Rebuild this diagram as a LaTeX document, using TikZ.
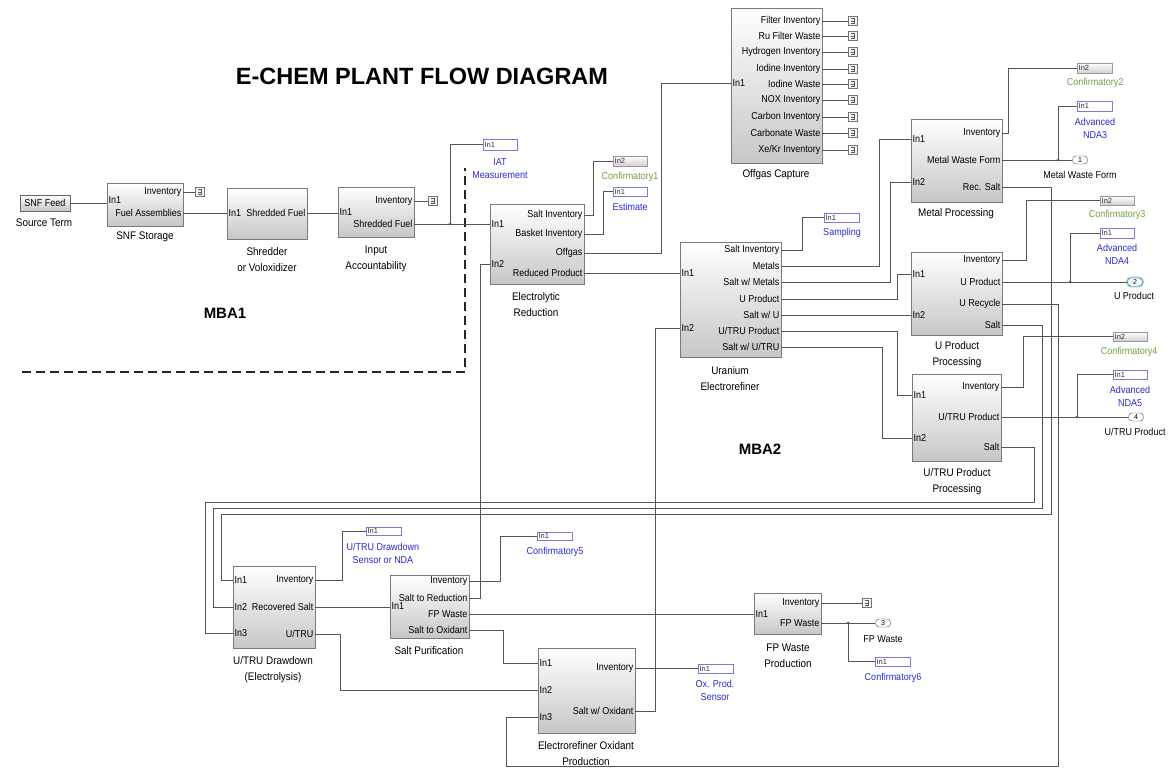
\documentclass[tikz,border=0pt]{standalone}
\usepackage{fontspec}
\setmainfont{Liberation Sans}
\newfontfamily\nf[FakeStretch=0.9]{Liberation Sans}
\usetikzlibrary{fit}
\definecolor{wirec}{HTML}{555555}
\definecolor{lblue}{HTML}{2A2AD8}
\definecolor{lgreen}{HTML}{74A040}
\definecolor{bbord}{HTML}{7C78E0}
\definecolor{bordc}{HTML}{7A7A7A}
\newcommand\smallin[7]{\node[#1, fit={(#3,#4)(#5,#6)}] (#2) {}; \node[tt] (#2-t) at ([xshift=1.8pt]#2.west) {#7};}
\newcommand\ogport[3]{\node[pl,anchor=east] (og-o#1) at (820.5,#2) {#3}; \node[term] (og-t#1) at (853,#2) {}; \draw[wire] (og.east |- og-o#1) -- (og-t#1.west);}
\begin{document}
\begin{tikzpicture}[x=1pt,y=-1pt,
  blk/.style={draw=bordc, line width=0.7pt, top color=white, bottom color=black!22, inner sep=0pt},
  pl/.style={font=\nf\fontsize{10}{11}\selectfont, inner sep=0pt},
  bcap/.style={font=\nf\fontsize{11}{16}\selectfont, inner sep=0pt, align=center},
  bl/.style={font=\nf\fontsize{10}{13}\selectfont, text=lblue, inner sep=0pt, align=center},
  gl/.style={font=\nf\fontsize{10}{13}\selectfont, text=lgreen, inner sep=0pt, align=center},
  ol/.style={font=\nf\fontsize{10}{13}\selectfont, inner sep=0pt, align=center},
  wire/.style={draw=wirec, line width=0.75pt},
  bbox/.style={draw=bbord, fill=white, line width=0.9pt, inner sep=0pt},
  gbox/.style={draw=black!40, top color=white, bottom color=black!18, line width=0.6pt, inner sep=0pt},
  tt/.style={font=\fontsize{7.5}{7.5}\selectfont, inner sep=0pt, anchor=west, text=black!80},
  term/.style={draw=black!55, fill=black!4, minimum width=9pt, minimum height=9pt, inner sep=0pt,
    path picture={\draw[black!65, line width=0.45pt] ([xshift=-2pt,yshift=2.3pt]path picture bounding box.center) -- ++(3.5pt,0pt) -- ++(0pt,-4.6pt) -- ++(-3.5pt,0pt) ([xshift=-2pt]path picture bounding box.center) -- ++(3.5pt,0pt);}},
  outp/.style={draw=black!70, fill=white, rounded corners=3.5pt, minimum width=15pt, minimum height=8pt, inner sep=0pt, font=\fontsize{7}{7}\selectfont},
  mbadash/.style={draw=black!85, line width=1.8pt, dash pattern=on 9pt off 5pt},
  jdot/.style={fill=wirec}
]
\useasboundingbox[fill=white] (0,0) rectangle (1173,768);

% title and MBA labels
\node[font=\fontsize{23.5}{24}\selectfont\bfseries, inner sep=0pt] (title) at (422,76) {E-CHEM PLANT FLOW DIAGRAM};
\node[font=\fontsize{15}{15}\selectfont\bfseries, inner sep=0pt] (mba1) at (225,313) {MBA1};
\node[font=\fontsize{15}{15}\selectfont\bfseries, inner sep=0pt] (mba2) at (760,449) {MBA2};
\draw[mbadash] (22,372) -- (465,372) -- (465,168);

% source
\node[blk, draw=black!60, minimum width=50pt, minimum height=16pt, font=\nf\fontsize{10}{11}\selectfont] (src) at (45,203) {SNF Feed};
\node[bcap] (src-c) at (44,223) {Source Term};

% SNF storage
\node[blk, fit={(107,183)(183,226)}] (stor) {};
\node[pl,anchor=west] (stor-i1) at (108.5,200) {In1};
\node[pl,anchor=east] (stor-o1) at (181.5,192) {Inventory};
\node[pl,anchor=east] (stor-o2) at (181.5,213) {Fuel Assemblies};
\node[term] (stor-t) at (200,192) {};
\node[bcap] (stor-c) at (145,237) {SNF Storage};

% shredder
\node[blk, fit={(227,188)(307,239)}] (shred) {};
\node[pl,anchor=west] (shred-i1) at (228.5,213) {In1};
\node[pl,anchor=east] (shred-o1) at (305.5,213) {Shredded Fuel};
\node[bcap] (shred-c) at (267,260) {Shredder\\or Voloxidizer};

% input accountability
\node[blk, fit={(338,187)(414,237)}] (inacc) {};
\node[pl,anchor=west] (inacc-i1) at (339.5,212) {In1};
\node[pl,anchor=east] (inacc-o1) at (412.5,201) {Inventory};
\node[pl,anchor=east] (inacc-o2) at (412.5,224) {Shredded Fuel};
\node[term] (inacc-t) at (433,201) {};
\node[bcap] (inacc-c) at (376,258.5) {Input\\Accountability};

% electrolytic reduction
\node[blk, fit={(490,204)(584,284)}] (er) {};
\node[pl,anchor=west] (er-i1) at (491.5,224) {In1};
\node[pl,anchor=west] (er-i2) at (491.5,264) {In2};
\node[pl,anchor=east] (er-o1) at (582.5,215) {Salt Inventory};
\node[pl,anchor=east] (er-o2) at (582.5,234) {Basket Inventory};
\node[pl,anchor=east] (er-o3) at (582.5,253) {Offgas};
\node[pl,anchor=east] (er-o4) at (582.5,273) {Reduced Product};
\node[bcap] (er-c) at (536,305) {Electrolytic\\Reduction};

% offgas capture
\node[blk, fit={(731,8)(822,163)}] (og) {};
\node[pl,anchor=west] (og-i1) at (732.5,83) {In1};
\ogport{1}{21}{Filter Inventory}
\ogport{2}{36}{Ru Filter Waste}
\ogport{3}{52}{Hydrogen Inventory}
\ogport{4}{69}{Iodine Inventory}
\ogport{5}{84}{Iodine Waste}
\ogport{6}{100}{NOX Inventory}
\ogport{7}{117}{Carbon Inventory}
\ogport{8}{133}{Carbonate Waste}
\ogport{9}{150}{Xe/Kr Inventory}
\node[bcap] (og-c) at (776,175) {Offgas Capture};

% uranium electrorefiner
\node[blk, fit={(680,242)(781,357)}] (uer) {};
\node[pl,anchor=west] (uer-i1) at (681.5,273) {In1};
\node[pl,anchor=west] (uer-i2) at (681.5,328) {In2};
\node[pl,anchor=east] (uer-o1) at (779.5,250) {Salt Inventory};
\node[pl,anchor=east] (uer-o2) at (779.5,266) {Metals};
\node[pl,anchor=east] (uer-o3) at (779.5,282) {Salt w/ Metals};
\node[pl,anchor=east] (uer-o4) at (779.5,299) {U Product};
\node[pl,anchor=east] (uer-o5) at (779.5,315) {Salt w/ U};
\node[pl,anchor=east] (uer-o6) at (779.5,331) {U/TRU Product};
\node[pl,anchor=east] (uer-o7) at (779.5,347) {Salt w/ U/TRU};
\node[bcap] (uer-c) at (730,378.5) {Uranium\\Electrorefiner};

% metal processing
\node[blk, fit={(911,119)(1002,202)}] (mp) {};
\node[pl,anchor=west] (mp-i1) at (912.5,139) {In1};
\node[pl,anchor=west] (mp-i2) at (912.5,182) {In2};
\node[pl,anchor=east] (mp-o1) at (1000.5,133) {Inventory};
\node[pl,anchor=east] (mp-o2) at (1000.5,160) {Metal Waste Form};
\node[pl,anchor=east] (mp-o3) at (1000.5,187) {Rec. Salt};
\node[bcap] (mp-c) at (956,214) {Metal Processing};

% U product processing
\node[blk, fit={(911,252)(1002,335)}] (upp) {};
\node[pl,anchor=west] (upp-i1) at (912.5,274) {In1};
\node[pl,anchor=west] (upp-i2) at (912.5,315) {In2};
\node[pl,anchor=east] (upp-o1) at (1000.5,260) {Inventory};
\node[pl,anchor=east] (upp-o2) at (1000.5,282) {U Product};
\node[pl,anchor=east] (upp-o3) at (1000.5,304) {U Recycle};
\node[pl,anchor=east] (upp-o4) at (1000.5,325) {Salt};
\node[bcap] (upp-c) at (957,355) {U Product\\Processing};

% U/TRU product processing
\node[blk, fit={(912,374)(1001,461)}] (tpp) {};
\node[pl,anchor=west] (tpp-i1) at (913.5,395) {In1};
\node[pl,anchor=west] (tpp-i2) at (913.5,438) {In2};
\node[pl,anchor=east] (tpp-o1) at (999.5,387) {Inventory};
\node[pl,anchor=east] (tpp-o2) at (999.5,417) {U/TRU Product};
\node[pl,anchor=east] (tpp-o3) at (999.5,447) {Salt};
\node[bcap] (tpp-c) at (957,481.5) {U/TRU Product\\Processing};

% U/TRU drawdown
\node[blk, fit={(233,566)(315,648)}] (dd) {};
\node[pl,anchor=west] (dd-i1) at (234.5,580) {In1};
\node[pl,anchor=west] (dd-i2) at (234.5,607) {In2};
\node[pl,anchor=west] (dd-i3) at (234.5,633) {In3};
\node[pl,anchor=east] (dd-o1) at (313.5,580) {Inventory};
\node[pl,anchor=east] (dd-o2) at (313.5,607) {Recovered Salt};
\node[pl,anchor=east] (dd-o3) at (313.5,634) {U/TRU};
\node[bcap] (dd-c) at (273,670) {U/TRU Drawdown\\(Electrolysis)};

% salt purification
\node[blk, fit={(390,575)(469,638)}] (sp) {};
\node[pl,anchor=west] (sp-i1) at (391.5,606) {In1};
\node[pl,anchor=east] (sp-o1) at (467.5,581) {Inventory};
\node[pl,anchor=east] (sp-o2) at (467.5,598) {Salt to Reduction};
\node[pl,anchor=east] (sp-o3) at (467.5,614) {FP Waste};
\node[pl,anchor=east] (sp-o4) at (467.5,630) {Salt to Oxidant};
\node[bcap] (sp-c) at (429,651) {Salt Purification};

% FP waste production
\node[blk, fit={(754,593)(821,634)}] (fp) {};
\node[pl,anchor=west] (fp-i1) at (755.5,614) {In1};
\node[pl,anchor=east] (fp-o1) at (819.5,603) {Inventory};
\node[pl,anchor=east] (fp-o2) at (819.5,623) {FP Waste};
\node[term] (fp-t) at (867,603) {};
\node[bcap] (fp-c) at (788,656) {FP Waste\\Production};

% electrorefiner oxidant production
\node[blk, fit={(538,648)(635,733)}] (ox) {};
\node[pl,anchor=west] (ox-i1) at (539.5,663) {In1};
\node[pl,anchor=west] (ox-i2) at (539.5,690) {In2};
\node[pl,anchor=west] (ox-i3) at (539.5,717) {In3};
\node[pl,anchor=east] (ox-o1) at (633.5,668.5) {Inventory};
\node[pl,anchor=east] (ox-o2) at (633.5,711) {Salt w/ Oxidant};
\node[bcap] (ox-c) at (586,753.5) {Electrorefiner Oxidant\\Production};

% small measurement blocks
\smallin{bbox}{iat}{483}{139}{517}{150}{In1}
\node[bl] (iat-l) at (500,168.5) {IAT\\Measurement};
\smallin{gbox}{c1}{613}{156}{647}{166}{In2}
\node[gl] (c1-l) at (630,177) {Confirmatory1};
\smallin{bbox}{est}{613}{187}{647}{196}{In1}
\node[bl] (est-l) at (630,207) {Estimate};
\smallin{bbox}{samp}{824}{213}{859}{222}{In1}
\node[bl] (samp-l) at (842,233) {Sampling};
\smallin{gbox}{c2}{1077}{63}{1112}{73}{In2}
\node[gl] (c2-l) at (1095,83) {Confirmatory2};
\smallin{bbox}{nda3}{1077}{101}{1112}{111}{In1}
\node[bl] (nda3-l) at (1095,128.5) {Advanced\\NDA3};
\smallin{gbox}{c3}{1100}{196}{1134}{205}{In2}
\node[gl] (c3-l) at (1117,215) {Confirmatory3};
\smallin{bbox}{nda4}{1100}{228}{1134}{238}{In1}
\node[bl] (nda4-l) at (1117,254.5) {Advanced\\NDA4};
\smallin{gbox}{c4}{1113}{332}{1147}{341}{In2}
\node[gl] (c4-l) at (1129,352) {Confirmatory4};
\smallin{bbox}{nda5}{1113}{370}{1147}{379}{In1}
\node[bl] (nda5-l) at (1130,396) {Advanced\\NDA5};
\smallin{bbox}{ddsens}{366}{527}{401}{535}{In1}
\node[bl] (ddsens-l) at (383,553.5) {U/TRU Drawdown\\Sensor or NDA};
\smallin{bbox}{c5}{537}{532}{572}{540}{In1}
\node[bl] (c5-l) at (555,552) {Confirmatory5};
\smallin{bbox}{c6}{875}{657}{910}{666}{In1}
\node[bl] (c6-l) at (893,678) {Confirmatory6};
\smallin{bbox}{oxs}{698}{664}{733}{673}{In1}
\node[bl] (oxs-l) at (715,690.5) {Ox. Prod.\\Sensor};

% outports
\node[outp] (out1) at (1080,160) {1};
\node[ol] (out1-l) at (1080,175) {Metal Waste Form};
\node[outp, preaction={draw=cyan!45, line width=2.6pt}] (out2) at (1135,282) {2};
\node[ol] (out2-l) at (1134,296) {U Product};
\node[outp] (out3) at (883,623) {3};
\node[ol] (out3-l) at (883,639) {FP Waste};
\node[outp] (out4) at (1136,417) {4};
\node[ol] (out4-l) at (1135,432) {U/TRU Product};

% junctions
\coordinate (j1) at (450,224);
\coordinate (j2) at (1058,160);
\coordinate (j3) at (1070,282);
\coordinate (j4) at (1077,417);
\coordinate (j5) at (848,623);

% wires
\draw[wire] (src.east) -- (stor.west |- src.east);
\draw[wire] (stor.east |- stor-o1) -- (stor-t.west);
\draw[wire] (stor.east |- stor-o2) -- (shred.west |- stor-o2);
\draw[wire] (shred.east |- shred-o1) -- (inacc.west |- shred-o1);
\draw[wire] (inacc.east |- inacc-o1) -- (inacc-t.west);
\draw[wire] (inacc.east |- inacc-o2) -- (er.west |- er-i1);
\draw[wire] (j1) |- (iat.west);
\draw[wire] (er.east |- er-o1) -- ++(9,0) |- (c1.west);
\draw[wire] (er.east |- er-o2) -- ++(19,0) |- (est.west);
\draw[wire] (er.east |- er-o3) -- ++(77,0) |- (og.west |- og-i1);
\draw[wire] (er.east |- er-o4) -- (uer.west |- uer-i1);
\draw[wire] (uer.east |- uer-o1) -- ++(21,0) |- (samp.west);
\draw[wire] (uer.east |- uer-o2) -- ++(98,0) |- (mp.west |- mp-i1);
\draw[wire] (uer.east |- uer-o3) -- ++(109,0) |- (mp.west |- mp-i2);
\draw[wire] (uer.east |- uer-o4) -- ++(116,0) |- (upp.west |- upp-i1);
\draw[wire] (uer.east |- uer-o5) -- (upp.west |- upp-i2);
\draw[wire] (uer.east |- uer-o6) -- ++(116,0) |- (tpp.west |- tpp-i1);
\draw[wire] (uer.east |- uer-o7) -- ++(101,0) |- (tpp.west |- tpp-i2);
\draw[wire] (mp.east |- mp-o1) -- ++(6,0) |- (c2.west);
\draw[wire] (mp.east |- mp-o2) -- (out1.west);
\draw[wire] (j2) |- (nda3.west);
\draw[wire] (mp.east |- mp-o3) -- (1051,187) -- (1051,514) -- (221,514) |- (dd.west |- dd-i1);
\draw[wire] (upp.east |- upp-o1) -- ++(24,0) |- (c3.west);
\draw[wire] (upp.east |- upp-o2) -- (out2.west);
\draw[wire] (j3) |- (nda4.west);
\draw[wire] (upp.east |- upp-o3) -- (1058,304) -- (1058,766) -- (506,766) |- (ox.west |- ox-i3);
\draw[wire] (upp.east |- upp-o4) -- (1042,325) -- (1042,508) -- (213,508) |- (dd.west |- dd-i2);
\draw[wire] (tpp.east |- tpp-o1) -- ++(22,0) |- (c4.west);
\draw[wire] (tpp.east |- tpp-o2) -- (out4.west);
\draw[wire] (j4) |- (nda5.west);
\draw[wire] (tpp.east |- tpp-o3) -- (1034,447) -- (1034,502) -- (205,502) |- (dd.west |- dd-i3);
\draw[wire] (dd.east |- dd-o1) -- ++(27,0) |- (ddsens.west);
\draw[wire] (dd.east |- dd-o2) -- (sp.west |- dd-o2);
\draw[wire] (dd.east |- dd-o3) -- ++(25,0) |- (ox.west |- ox-i2);
\draw[wire] (sp.east |- sp-o1) -- ++(31,0) |- (c5.west);
\draw[wire] (sp.east |- sp-o2) -- ++(11,0) |- (er.west |- er-i2);
\draw[wire] (sp.east |- sp-o3) -- (fp.west |- sp-o3);
\draw[wire] (sp.east |- sp-o4) -- ++(34,0) |- (ox.west |- ox-i1);
\draw[wire] (fp.east |- fp-o1) -- (fp-t.west);
\draw[wire] (fp.east |- fp-o2) -- (out3.west);
\draw[wire] (j5) |- (c6.west);
\draw[wire] (ox.east |- oxs.west) -- (oxs.west);
\draw[wire] (ox.east |- ox-o2) -- ++(20,0) |- (uer.west |- uer-i2);

\foreach \j in {j1,j2,j3,j4,j5} \fill[jdot] (\j) circle (1.5pt);
\end{tikzpicture}
\end{document}
